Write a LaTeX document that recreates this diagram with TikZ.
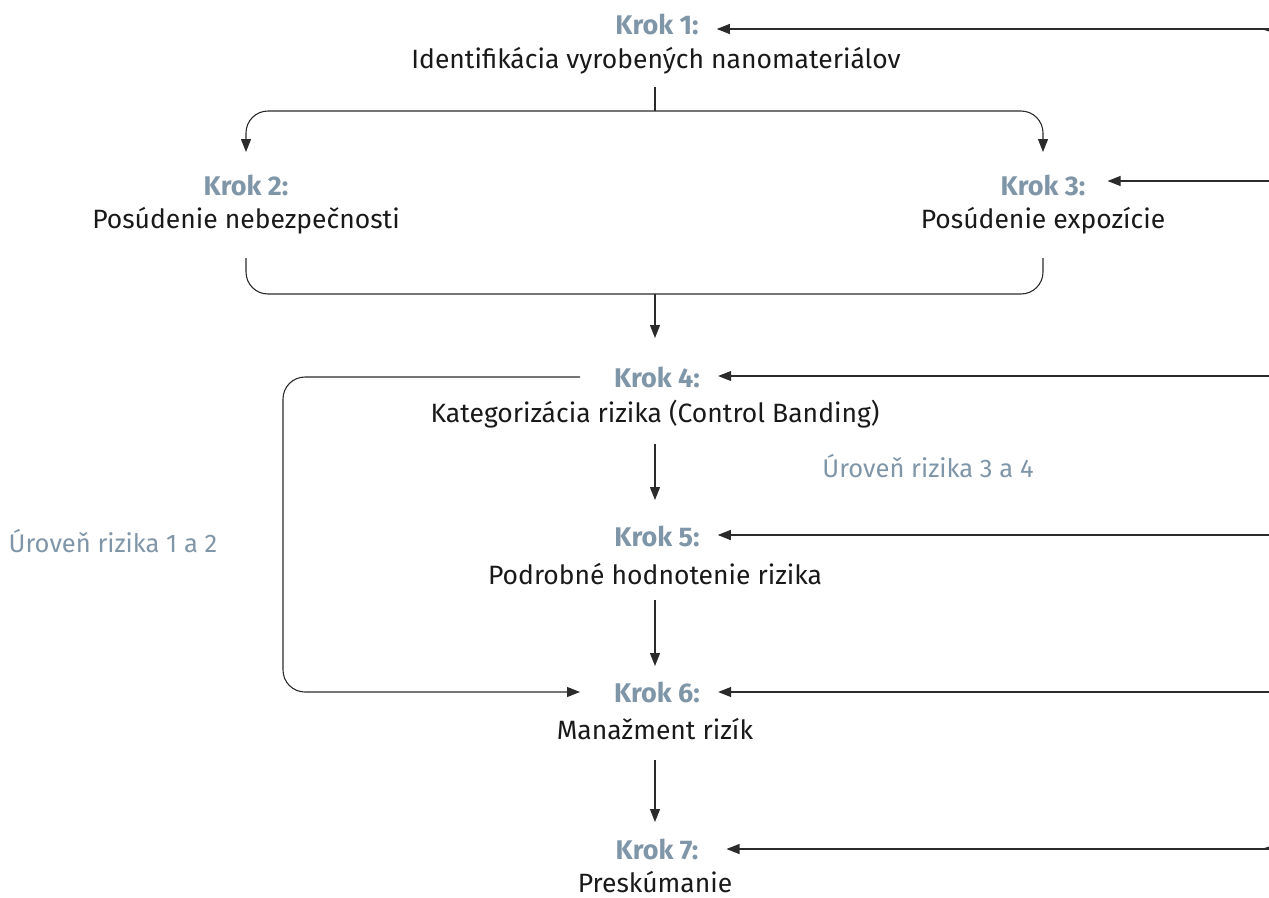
\documentclass[tikz,border=0pt]{standalone}
\usepackage{fontspec}
\setmainfont{Fira Sans}
\usetikzlibrary{arrows.meta,calc}
\definecolor{kcol}{HTML}{7F95A8}
\definecolor{lcol}{HTML}{2B2B2B}
\begin{document}
\begin{tikzpicture}[x=1pt,y=-1pt,
  krok/.style={font=\fontsize{27}{30}\selectfont\bfseries, text=kcol, inner sep=0pt, anchor=center},
  desc/.style={font=\fontsize{26.5}{30}\selectfont, text=black!90, inner sep=0pt, anchor=center},
  lvl/.style={font=\fontsize{25.5}{28}\selectfont, text=kcol, inner sep=0pt, anchor=center},
  line/.style={draw=lcol, line width=1.1pt},
  arr/.style={line, -{Triangle[length=13pt,width=10pt]}},
  rc/.style={rounded corners=22pt}]
\useasboundingbox (0,0) rectangle (1269,897);
\clip (0,0) rectangle (1269,897);
% nodes
\node[krok] (k1) at (657,24) {Krok 1:};
\node[desc] (t1) at (656,61) {Identifikácia vyrobených nanomateriálov};
\node[krok] (k2) at (246,185) {Krok 2:};
\node[desc] (t2) at (246,221) {Posúdenie nebezpečnosti};
\node[krok] (k3) at (1043,185) {Krok 3:};
\node[desc] (t3) at (1043,221) {Posúdenie expozície};
\node[krok] (k4) at (657,377) {Krok 4:};
\node[desc] (t4) at (655,414) {Kategorizácia rizika (Control Banding)};
\node[lvl] (l34) at (928,466) {Úroveň rizika 3 a 4};
\node[krok] (k5) at (657,536) {Krok 5:};
\node[desc] (t5) at (655,574) {Podrobné hodnotenie rizika};
\node[lvl] (l12) at (113,541) {Úroveň rizika 1 a 2};
\node[krok] (k6) at (657,692) {Krok 6:};
\node[desc] (t6) at (655,729) {Manažment rizík};
\node[krok] (k7) at (657,849) {Krok 7:};
\node[desc] (t7) at (655,882) {Preskúmanie};
% coordinates
\coordinate (s1) at (655,87);
\coordinate (j1) at (655,111);
\coordinate (a2) at (246,152);
\coordinate (a3) at (1043,152);
\coordinate (b2) at (246,258);
\coordinate (b3) at (1043,258);
\coordinate (j2) at (655,294);
\coordinate (a4) at (655,338);
\coordinate (s4) at (655,444);
\coordinate (a5) at (655,500);
\coordinate (s5) at (655,600);
\coordinate (a6) at (655,666);
\coordinate (s6) at (655,760);
\coordinate (a7) at (655,822);
\coordinate (L4) at (580,377);
\coordinate (L6) at (580,692);
\coordinate (Lx) at (283,0);
\coordinate (Rx) at (1282,0);
% top fork
\draw[line] (s1) -- (j1);
\draw[arr, rc] (j1) -| (a2);
\draw[arr, rc] (j1) -| (a3);
% bottom bracket
\draw[line, rc] (b2) |- (j2) -| (b3);
\draw[arr] (j2) -- (a4);
% vertical chain
\draw[arr] (s4) -- (a5);
\draw[arr] (s5) -- (a6);
\draw[arr] (s6) -- (a7);
% left loop
\draw[arr, rc] (L4) -- (Lx |- L4) -- (Lx |- L6) -- (L6);
% right feedback
\draw[line, rc] (1240,29) -- (Rx |- 0,29) -- (Rx |- 0,849) -- (1240,849);
\draw[arr] (Rx |- 0,29) -- ([xshift=18pt]k1.east |- 0,29);
\draw[arr] (Rx |- 0,181) -- ([xshift=22pt]k3.east |- 0,181);
\draw[arr] (Rx |- 0,376) -- ([xshift=18pt]k4.east |- 0,376);
\draw[arr] (Rx |- 0,535) -- ([xshift=18pt]k5.east |- 0,535);
\draw[arr] (Rx |- 0,692) -- ([xshift=18pt]k6.east |- 0,692);
\draw[arr] (Rx |- 0,849) -- ([xshift=28pt]k7.east |- 0,849);
\end{tikzpicture}
\end{document}
